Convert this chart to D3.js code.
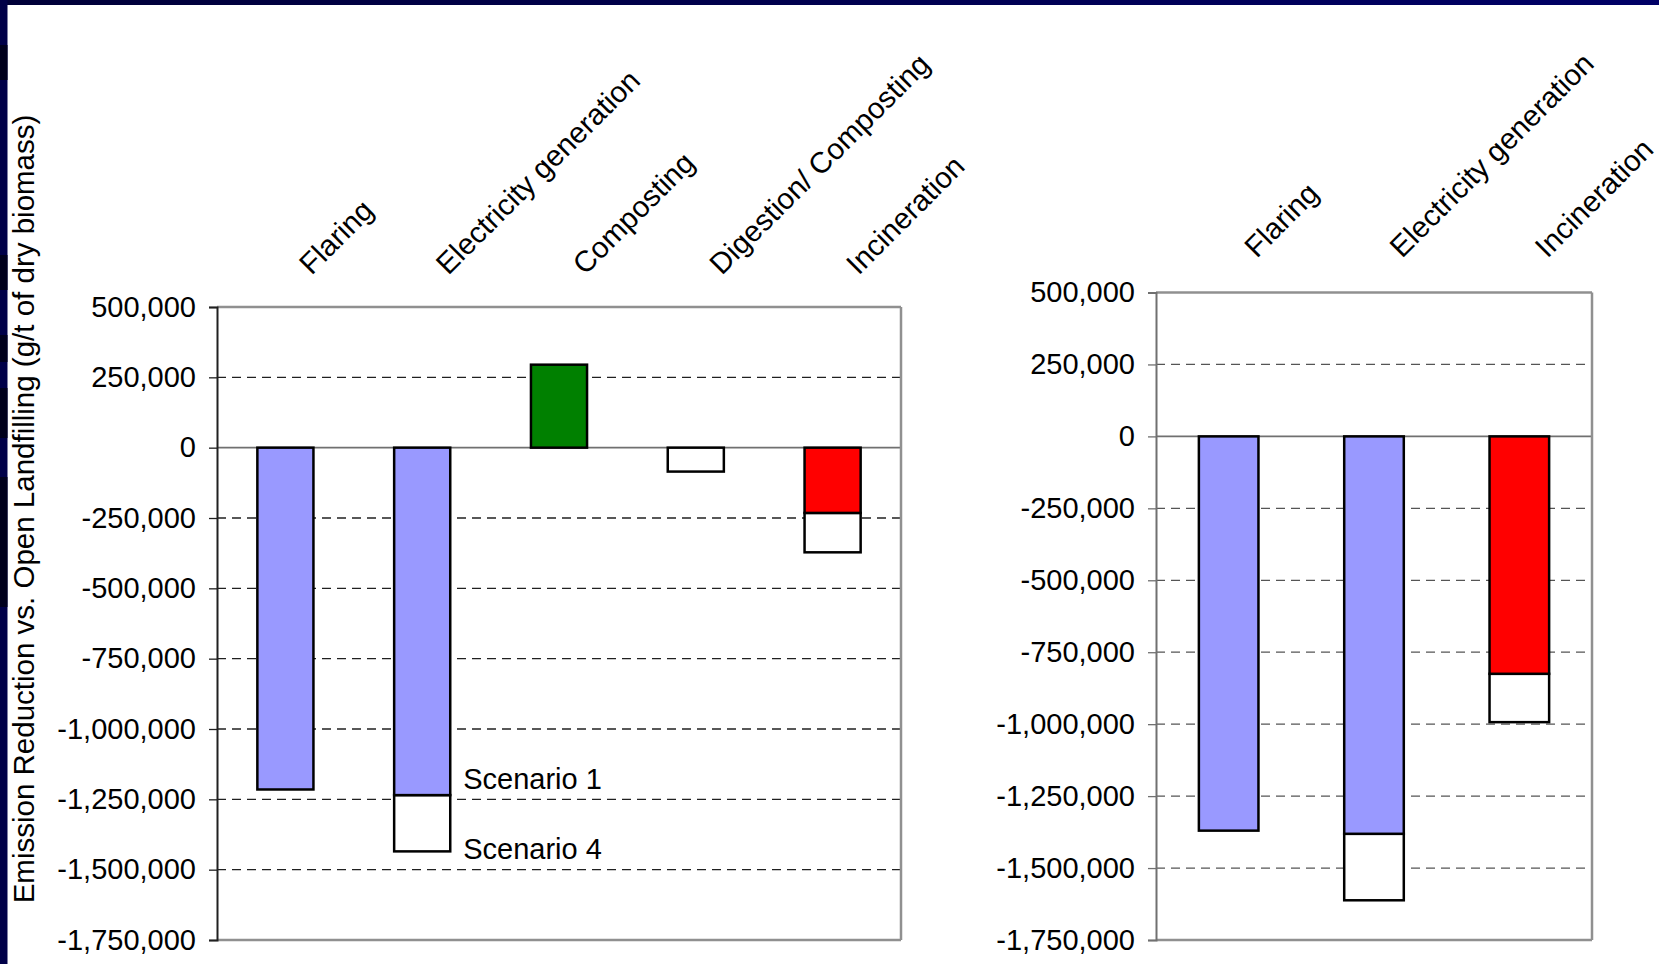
<!DOCTYPE html>
<html>
<head>
<meta charset="utf-8">
<script src="https://cdn.jsdelivr.net/npm/d3@7"></script>
<style>
  html, body { margin: 0; padding: 0; background: #ffffff; }
  svg { display: block; }
  text { font-family: "Liberation Sans", Arial, sans-serif; fill: #000; }
</style>
</head>
<body>
<svg id="chart" width="1659" height="964"></svg>
<script>
// ---------- data ----------
const leftCategories = ["Flaring", "Electricity generation", "Composting", "Digestion/ Composting", "Incineration"];
const leftScenario1 = [-1215000, -1235000, 295000, -85000, -232000];
const leftScenario4 = [null, -1435000, null, null, -372000];
const leftFills = ["#9999FF", "#9999FF", "#008000", "#FFFFFF", "#FF0000"];

const rightCategories = ["Flaring", "Electricity generation", "Incineration"];
const rightScenario1 = [-1370000, -1381000, -825000];
const rightScenario4 = [null, -1612000, -993000];
const rightFills = ["#9999FF", "#9999FF", "#FF0000"];

const tickValues = [500000, 250000, 0, -250000, -500000, -750000, -1000000, -1250000, -1500000, -1750000];
const yTitle = "Emission Reduction vs. Open Landfilling (g/t of dry biomass)";
const scenarioLabels = ["Scenario 1", "Scenario 4"];

// ---------- drawing ----------
const svg = d3.select("#chart");
const FONT = 29.5;
const TICK_FONT = 29;

// slide decoration (dark top band + left stripe)
const defs = svg.append("defs");
const g1 = defs.append("linearGradient").attr("id", "topband").attr("x1", 0).attr("x2", 1);
g1.append("stop").attr("offset", 0).attr("stop-color", "#000038");
g1.append("stop").attr("offset", 1).attr("stop-color", "#000066");
svg.append("rect").attr("x", 0).attr("y", 0).attr("width", 1659).attr("height", 5).attr("fill", "url(#topband)");
svg.append("rect").attr("x", 0).attr("y", 0).attr("width", 7.5).attr("height", 964).attr("fill", "#000048");
[[45, 35], [255, 35], [335, 27], [388, 50], [477, 130]].forEach(([y, h]) => {
  svg.append("rect").attr("x", 0).attr("y", y).attr("width", 7.5).attr("height", h).attr("fill", "#00001c");
});

const fmt = d => d3.format(",")(d).replace("\u2212", "-");

function drawChart(opts) {
  const { categories, s1, s4, fills, x0, x1, yTop, yBot, gridColor, axisColor, labelDx, labelY } = opts;
  const y = d3.scaleLinear().domain([-1750000, 500000]).range([yBot, yTop]);
  const x = d3.scaleBand().domain(categories).range([x0, x1]).paddingInner(0.59).paddingOuter(0.295);
  const g = svg.append("g");

  // gridlines (dashed)
  g.selectAll("line.grid").data(tickValues.filter(t => t !== 0 && t !== 500000 && t !== -1750000))
    .join("line").attr("class", "grid")
    .attr("x1", x0).attr("x2", x1)
    .attr("y1", d => y(d)).attr("y2", d => y(d))
    .attr("stroke", gridColor).attr("stroke-width", 1.3).attr("stroke-dasharray", "9,6");

  // zero line
  g.append("line").attr("x1", x0).attr("x2", x1).attr("y1", y(0)).attr("y2", y(0))
    .attr("stroke", "#707070").attr("stroke-width", 1.6);

  // frame
  g.append("line").attr("x1", x0).attr("x2", x1).attr("y1", yTop).attr("y2", yTop).attr("stroke", "#909090").attr("stroke-width", 2.5);
  g.append("line").attr("x1", x1).attr("x2", x1).attr("y1", yTop).attr("y2", yBot).attr("stroke", "#909090").attr("stroke-width", 2.5);
  g.append("line").attr("x1", x0).attr("x2", x1).attr("y1", yBot).attr("y2", yBot).attr("stroke", "#909090").attr("stroke-width", 2.5);

  // axis
  const axis = d3.axisLeft(y).tickValues(tickValues).tickSize(8).tickPadding(13).tickFormat(fmt);
  const ag = g.append("g").attr("transform", `translate(${x0},0)`).call(axis);
  ag.select(".domain").attr("stroke", axisColor).attr("stroke-width", 2);
  ag.selectAll(".tick line").attr("stroke", axisColor).attr("stroke-width", 1.3);
  ag.selectAll(".tick text").attr("font-size", TICK_FONT).attr("font-family", '"Liberation Sans", Arial, sans-serif').attr("fill", "#000");

  // bars
  const rows = categories.map((c, i) => ({ c, v1: s1[i], v4: s4[i], fill: fills[i] }));
  g.selectAll("rect.s4").data(rows.filter(r => r.v4 !== null)).join("rect").attr("class", "s4")
    .attr("x", d => x(d.c)).attr("width", x.bandwidth())
    .attr("y", d => y(d.v1)).attr("height", d => y(d.v4) - y(d.v1))
    .attr("fill", "#ffffff").attr("stroke", "#000").attr("stroke-width", 2.5);
  g.selectAll("rect.s1").data(rows).join("rect").attr("class", "s1")
    .attr("x", d => x(d.c)).attr("width", x.bandwidth())
    .attr("y", d => Math.min(y(0), y(d.v1))).attr("height", d => Math.abs(y(d.v1) - y(0)))
    .attr("fill", d => d.fill).attr("stroke", "#000").attr("stroke-width", 2.5);

  // category labels rotated
  g.selectAll("text.cat").data(categories).join("text").attr("class", "cat")
    .attr("font-size", FONT)
    .attr("text-anchor", "start")
    .attr("transform", d => `translate(${x(d) + x.bandwidth() / 2 + labelDx},${labelY}) rotate(-45)`)
    .text(d => d);

  return { x, y };
}

const L = drawChart({
  categories: leftCategories, s1: leftScenario1, s4: leftScenario4, fills: leftFills,
  x0: 217, x1: 901, yTop: 307, yBot: 940, gridColor: "#202020", axisColor: "#202020",
  labelDx: 26, labelY: 276
});
drawChart({
  categories: rightCategories, s1: rightScenario1, s4: rightScenario4, fills: rightFills,
  x0: 1156, x1: 1592, yTop: 292.5, yBot: 940, gridColor: "#555555", axisColor: "#707070",
  labelDx: 28, labelY: 259
});

// scenario annotations next to Electricity generation bar (left chart)
const eIdx = 1;
const ex = L.x(leftCategories[eIdx]) + L.x.bandwidth() + 13;
svg.append("text").attr("x", ex).attr("y", L.y(leftScenario1[eIdx]) - 6).attr("font-size", 29).text(scenarioLabels[0]);
svg.append("text").attr("x", ex).attr("y", L.y(leftScenario4[eIdx]) + 8).attr("font-size", 29).text(scenarioLabels[1]);

// y axis title
svg.append("text")
  .attr("transform", "translate(34,509) rotate(-90)")
  .attr("text-anchor", "middle")
  .attr("font-size", FONT)
  .text(yTitle);
</script>
</body>
</html>
